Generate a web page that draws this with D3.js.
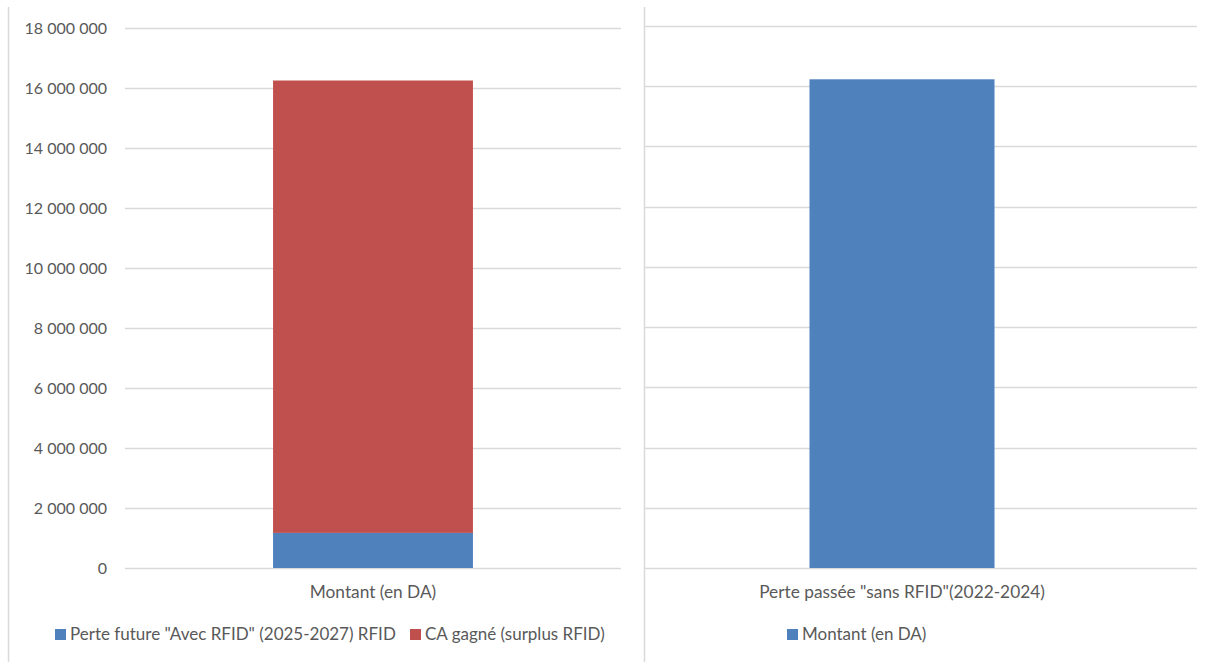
<!DOCTYPE html>
<html>
<head>
<meta charset="utf-8">
<script src="https://cdn.jsdelivr.net/npm/d3@7"></script>
<style>
  body { margin: 0; background: #fff; }
  text { font-family: Lato, "Open Sans", sans-serif; fill: #595959; }
</style>
</head>
<body>
<div class="chart"></div>
<script>
// chart data
var leftCategories = ["Montant (en DA)"];
var perteFuture = [1170000];
var caGagne = [15080000];
var leftSeriesNames = ['Perte future "Avec RFID" (2025-2027) RFID', "CA gagné (surplus RFID)"];

var rightCategories = ['Perte passée "sans RFID"(2022-2024)'];
var pertePassee = [16230000];
var rightSeriesNames = ["Montant (en DA)"];

var yTicks = [0, 2000000, 4000000, 6000000, 8000000, 10000000, 12000000, 14000000, 16000000, 18000000];

var svgWidth = 1214;
var svgHeight = 662;
var blue = "#4F81BD";
var red = "#C0504D";
var gridColor = "#D9D9D9";
var labelSize = "17.3px";
var legendSize = "17px";

var fr = d3.formatLocale({ thousands: " ", grouping: [3], decimal: ",", currency: ["", ""] });
var fmt = fr.format(",");

var svg = d3.select(".chart")
  .append("svg")
  .attr("width", svgWidth)
  .attr("height", svgHeight);

// frame lines
svg.append("line")
  .attr("x1", 8.5).attr("x2", 8.5).attr("y1", 7).attr("y2", svgHeight)
  .attr("stroke", gridColor).attr("stroke-width", 1.5);
svg.append("line")
  .attr("x1", 644.5).attr("x2", 644.5).attr("y1", 7).attr("y2", svgHeight)
  .attr("stroke", gridColor).attr("stroke-width", 1.5);

// ---------- left panel (stacked) ----------
var xLeft = d3.scaleBand()
  .domain(leftCategories)
  .range([125, 621])
  .padding(0.4255);

var yLeft = d3.scaleLinear()
  .domain([0, 18000000])
  .range([568, 28]);

svg.append("g")
  .selectAll("line")
  .data(yTicks)
  .enter()
  .append("line")
  .attr("x1", 125).attr("x2", 621)
  .attr("y1", d => Math.round(yLeft(d)) + 0.5)
  .attr("y2", d => Math.round(yLeft(d)) + 0.5)
  .attr("stroke", gridColor)
  .attr("stroke-width", 1.3);

var leftAxis = svg.append("g")
  .attr("transform", "translate(107,0)")
  .call(d3.axisLeft(yLeft).tickValues(yTicks).tickFormat(fmt).tickSize(0).tickPadding(0));
leftAxis.select(".domain").remove();
leftAxis.selectAll("text")
  .style("font-size", "16px")
  .attr("fill", "#595959")
  .style("font-family", "Lato, sans-serif");

var leftRows = leftCategories.map((c, i) => ({ cat: c, future: perteFuture[i], gain: caGagne[i] }));
var stacked = d3.stack().keys(["future", "gain"])(leftRows);
var leftColors = [blue, red];

svg.append("g")
  .selectAll("g")
  .data(stacked)
  .enter()
  .append("g")
  .attr("fill", (d, i) => leftColors[i])
  .selectAll("rect")
  .data(d => d)
  .enter()
  .append("rect")
  .attr("x", d => xLeft(d.data.cat))
  .attr("width", xLeft.bandwidth())
  .attr("y", d => yLeft(d[1]))
  .attr("height", d => yLeft(d[0]) - yLeft(d[1]));

svg.append("g")
  .selectAll("text")
  .data(leftCategories)
  .enter()
  .append("text")
  .attr("x", d => xLeft(d) + xLeft.bandwidth() / 2)
  .attr("y", 598)
  .attr("text-anchor", "middle")
  .style("font-size", labelSize)
  .text(d => d);

// left legend
var leftLegendX = [55, 410];
var leftLegend = svg.append("g")
  .selectAll("g")
  .data(leftSeriesNames)
  .enter()
  .append("g")
  .attr("transform", (d, i) => `translate(${leftLegendX[i]}, 629)`);
leftLegend.append("rect")
  .attr("width", 11).attr("height", 11)
  .attr("fill", (d, i) => leftColors[i]);
leftLegend.append("text")
  .attr("x", 15)
  .attr("y", 11)
  .style("font-size", legendSize)
  .text(d => d);

// ---------- right panel ----------
var xRight = d3.scaleBand()
  .domain(rightCategories)
  .range([645, 1159])
  .padding(0.4706);

var yRight = d3.scaleLinear()
  .domain([0, 18000000])
  .range([568, 26]);

svg.append("g")
  .selectAll("line")
  .data(yTicks)
  .enter()
  .append("line")
  .attr("x1", 645).attr("x2", 1197)
  .attr("y1", d => Math.round(yRight(d)) + 0.5)
  .attr("y2", d => Math.round(yRight(d)) + 0.5)
  .attr("stroke", gridColor)
  .attr("stroke-width", 1.3);

svg.append("g")
  .selectAll("rect")
  .data(pertePassee)
  .enter()
  .append("rect")
  .attr("x", (d, i) => xRight(rightCategories[i]))
  .attr("width", xRight.bandwidth())
  .attr("y", d => yRight(d))
  .attr("height", d => yRight(0) - yRight(d))
  .attr("fill", blue);

svg.append("g")
  .selectAll("text")
  .data(rightCategories)
  .enter()
  .append("text")
  .attr("x", d => xRight(d) + xRight.bandwidth() / 2)
  .attr("y", 598)
  .attr("text-anchor", "middle")
  .style("font-size", labelSize)
  .text(d => d);

var rightLegend = svg.append("g")
  .selectAll("g")
  .data(rightSeriesNames)
  .enter()
  .append("g")
  .attr("transform", "translate(787, 629)");
rightLegend.append("rect")
  .attr("width", 11).attr("height", 11)
  .attr("fill", blue);
rightLegend.append("text")
  .attr("x", 15)
  .attr("y", 11)
  .style("font-size", legendSize)
  .text(d => d);
</script>
</body>
</html>
